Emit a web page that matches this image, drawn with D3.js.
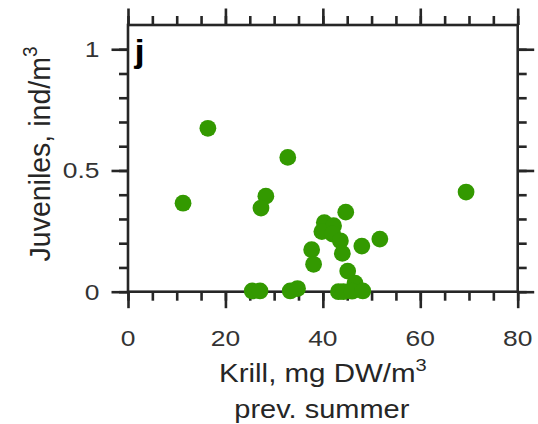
<!DOCTYPE html>
<html>
<head>
<meta charset="utf-8">
<script src="https://cdn.jsdelivr.net/npm/d3@7/dist/d3.min.js"></script>
<style>
  html, body { margin: 0; padding: 0; background: #fff; }
  svg { display: block; }
  text { font-family: "Liberation Sans", Arial, sans-serif; fill: #262626; }
</style>
</head>
<body>
<div id="chart"></div>
<script>
// Krill biomass in the previous summer (mg DW/m^3) vs juvenile density (ind/m^3)
const krill = [11.3, 16.4, 32.8, 28.3, 27.3, 69.4, 44.7,
               40.3, 42.2, 39.8, 42.0, 43.6, 44.0, 48.0, 51.7,
               37.7, 38.1, 45.1, 46.6,
               25.5, 27.1, 33.3, 34.8, 43.2, 44.2, 46.0, 48.2];
const juveniles = [0.365, 0.674, 0.554, 0.394, 0.345, 0.411, 0.328,
                   0.285, 0.272, 0.248, 0.238, 0.21, 0.158, 0.188, 0.217,
                   0.173, 0.113, 0.085, 0.035,
                   0.003, 0.003, 0.003, 0.013, 0.0, 0.0, 0.002, 0.003];

const xDomain = [0, 80];
const yDomain = [0, 1.1];
const xMajor = [0, 20, 40, 60, 80];
const xMinor = d3.range(0, 81, 5);
const yMajor = [0, 0.5, 1];
const yMinor = d3.range(0, 11).map(i => i / 10);
const yTickLabels = ["0", "0.5", "1"];

const W = 538, H = 424;
const plotL = 128, plotR = 517.7, plotT = 25, plotB = 291.7;
const stretch = 1.2;   // horizontal text stretch
const ink = "#262626";
const green = "#339900";

const svg = d3.select("#chart").append("svg")
  .attr("width", W).attr("height", H);

const x = d3.scaleLinear().domain(xDomain).range([plotL, plotR]);
const y = d3.scaleLinear().domain(yDomain).range([plotB, plotT]);

// tick marks on all four sides, pointing outward
function sideAxis(axisFn, scale, values, size, tx, ty) {
  const g = svg.append("g")
    .attr("transform", `translate(${tx},${ty})`)
    .call(axisFn(scale).tickValues(values).tickSize(size).tickFormat(""));
  g.select(".domain").remove();
  g.selectAll(".tick line").attr("stroke", ink).attr("stroke-width", 2.6);
  return g;
}
const majorLen = 16.5, minorLen = 9;
sideAxis(d3.axisBottom, x, xMinor, minorLen, 0, plotB);
sideAxis(d3.axisBottom, x, xMajor, majorLen, 0, plotB);
sideAxis(d3.axisTop, x, xMinor, minorLen, 0, plotT);
sideAxis(d3.axisTop, x, xMajor, majorLen, 0, plotT);
sideAxis(d3.axisLeft, y, yMinor, minorLen, plotL, 0);
sideAxis(d3.axisLeft, y, yMajor, majorLen, plotL, 0);
sideAxis(d3.axisRight, y, yMinor, minorLen, plotR, 0);
sideAxis(d3.axisRight, y, yMajor, majorLen, plotR, 0);

// frame
svg.append("rect")
  .attr("x", plotL).attr("y", plotT)
  .attr("width", plotR - plotL).attr("height", plotB - plotT)
  .attr("fill", "none").attr("stroke", ink).attr("stroke-width", 2.6);

// tick labels
function stretchedText(px, py, anchor, size, str) {
  return svg.append("text")
    .attr("transform", `translate(${px},${py}) scale(${stretch},1)`)
    .attr("text-anchor", anchor)
    .attr("font-size", size)
    .style("fill", "#333")
    .text(str);
}
xMajor.forEach(v => stretchedText(x(v), 345.5, "middle", 22, String(v)));
yMajor.forEach((v, i) => stretchedText(99.5, y(v) + 8, "end", 22, yTickLabels[i]));

// axis titles
const xt = svg.append("text")
  .attr("transform", `translate(${(plotL + plotR) / 2},382) scale(1.18,1)`)
  .attr("text-anchor", "middle").attr("font-size", 25);
xt.append("tspan").text("Krill, mg DW/m");
xt.append("tspan").attr("font-size", 17).attr("dy", -11).text("3");

svg.append("text")
  .attr("transform", `translate(${(plotL + plotR) / 2 - 1},418) scale(1.16,1)`)
  .attr("text-anchor", "middle").attr("font-size", 25)
  .text("prev. summer");

const yt = svg.append("text")
  .attr("transform", `translate(50,154) scale(1.05,1) rotate(-90)`)
  .attr("text-anchor", "middle").attr("font-size", 28.5);
yt.append("tspan").text("Juveniles, ind/m");
yt.append("tspan").attr("font-size", 19).attr("dy", -12).text("3");

// panel letter
svg.append("text")
  .attr("transform", `translate(134.5,62) scale(1.15,1)`)
  .attr("font-size", 32).attr("font-weight", "bold")
  .style("fill", "#000")
  .text("j");

// data points
svg.append("g").selectAll("circle")
  .data(krill.map((k, i) => ({ k, j: juveniles[i] })))
  .join("circle")
  .attr("cx", d => x(d.k))
  .attr("cy", d => y(d.j))
  .attr("r", 8.4)
  .attr("fill", green);
</script>
</body>
</html>
